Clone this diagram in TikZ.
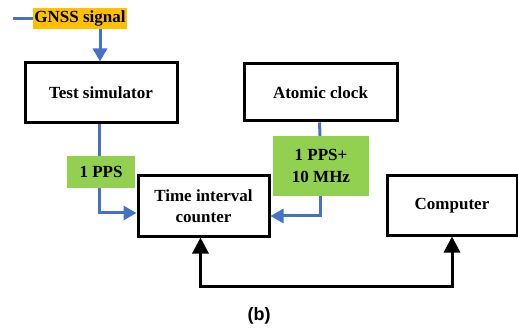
\documentclass[tikz,border=0pt]{standalone}
\usepackage{fontspec}
\setmainfont{Liberation Serif}
\newfontfamily\labfont{Liberation Sans}
\usetikzlibrary{arrows.meta}
\definecolor{lnblue}{HTML}{4472C4}
\definecolor{gorange}{HTML}{FFC000}
\definecolor{lgreen}{HTML}{92D050}
\begin{document}
\begin{tikzpicture}[x=1pt,y=-1pt,
  box/.style={draw=black,line width=3pt,fill=white,inner sep=0pt,align=center,font=\fontsize{17}{21.5}\selectfont\bfseries},
  tag/.style={inner sep=0pt,align=center,font=\fontsize{17}{21.5}\selectfont\bfseries},
  bluel/.style={draw=lnblue,line width=3pt},
  bluea/.style={bluel,-{Triangle[length=13pt,width=14pt]}},
  blka/.style={draw=black,line width=3pt,{Triangle[length=16pt,width=16pt]}-{Triangle[length=16pt,width=16pt]}}]
\useasboundingbox (0,0) rectangle (518,328);
\node[box,minimum width=152pt,minimum height=60pt] (test) at (101,93) {Test simulator};
\node[box,minimum width=153pt,minimum height=57pt] (atom) at (320.5,92.5) {Atomic clock};
\node[box,minimum width=131pt,minimum height=60pt] (tic) at (203.5,206) {Time interval\\counter};
\node[box,minimum width=130pt,minimum height=59pt] (comp) at (452,205.5) {Computer};
\node[tag,fill=gorange,minimum width=94pt,minimum height=21pt] (gnss) at (80,18.5) {GNSS signal};
\node[tag,fill=lgreen,minimum width=68pt,minimum height=32pt] (pps) at (101,172) {1 PPS};
\node[tag,fill=lgreen,minimum width=96pt,minimum height=60pt] (ppsm) at (321,166) {1 PPS+\\10 MHz};
\node[font=\labfont\bfseries\fontsize{18}{20}\selectfont] (lab) at (259,316) {(b)};
\coordinate (gin) at (13,18.5);
\coordinate (bot) at (300,286);
\draw[bluel] (gin) -- (gnss.west);
\draw[bluea] ([xshift=-1pt]test.north |- gnss.south) -- ([xshift=-1pt]test.north);
\draw[bluel] ([xshift=-2pt]test.south) -- ([xshift=-2pt]pps.north);
\draw[bluea] ([xshift=-2pt]pps.south) |- ([yshift=-7pt]tic.west);
\draw[bluel] ([xshift=-1pt]atom.south) -- ([xshift=-1pt]ppsm.north);
\draw[bluea] ([xshift=-1pt]ppsm.south) |- ([yshift=-10pt]tic.east);
\draw[blka] ([xshift=-3pt]tic.south) |- (bot) -| (comp.south);
\end{tikzpicture}
\end{document}
